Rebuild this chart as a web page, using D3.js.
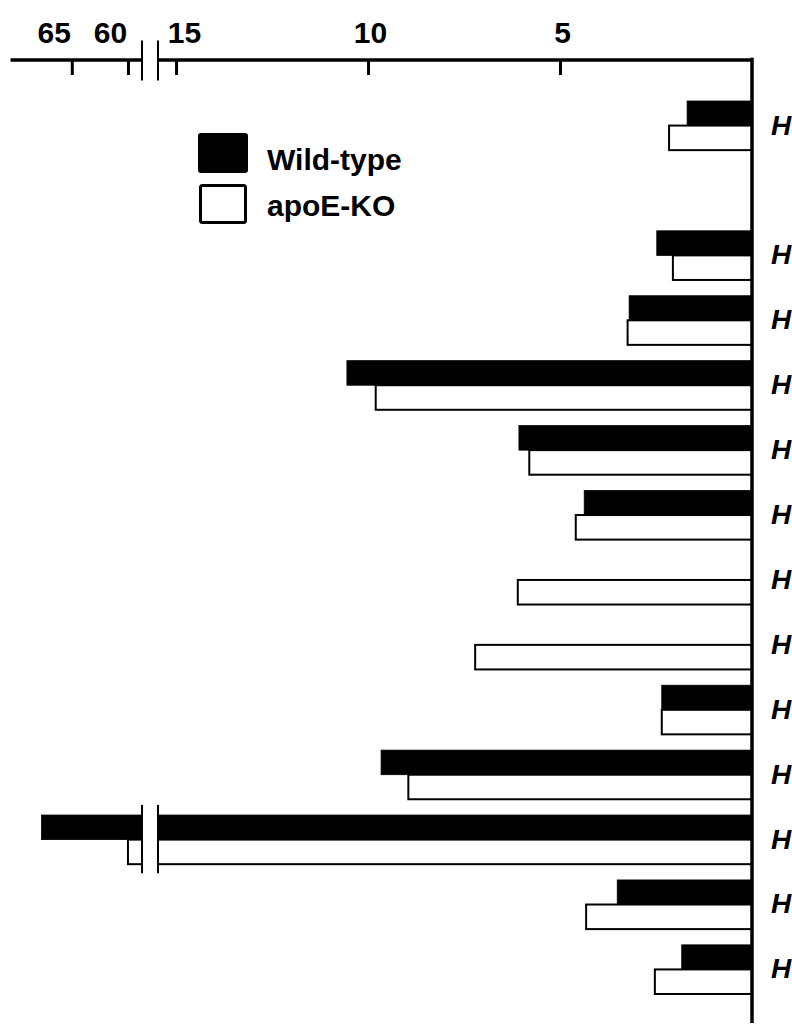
<!DOCTYPE html>
<html>
<head>
<meta charset="utf-8">
<script src="https://cdn.jsdelivr.net/npm/d3@7"></script>
<style>
body { margin: 0; background: #fff; }
text { font-family: "Liberation Sans", Arial, sans-serif; font-weight: bold; }
</style>
</head>
<body>
<div id="chart"></div>
<script>
// row labels (cut off at the right edge in the source figure)
const rowLabels = ["H", "H", "H", "H", "H", "H", "H", "H", "H", "H", "H", "H", "H"];
// fold change, Wild-type vs apoE-KO
const wildType = [1.69, 2.48, 3.20, 10.55, 6.07, 4.37, 0, 0, 2.35, 9.66, 67.7, 3.51, 1.83];
const apoeKO   = [2.16, 2.06, 3.24, 9.80, 5.80, 4.59, 6.10, 7.21, 2.35, 8.95, 60.0, 4.32, 2.53];
const rightTicks = [5, 10, 15];
const leftTicks = [60, 65];
// broken axis: 0..breakLow on the right, breakHigh..leftEnd on the left
const breakLow = 15.47, breakHigh = 58.75, leftEnd = 70.5;
const legendSlot = 1; // empty row where the legend sits

const width = 792, height = 1031;
const axisY = 59.5;

const svg = d3.select("#chart").append("svg")
    .attr("width", width)
    .attr("height", height);

const xR = d3.scaleLinear().domain([0, breakLow]).range([752, 158]);
const xL = d3.scaleLinear().domain([breakHigh, leftEnd]).range([142, 10]);

const slots = rowLabels.map((d, i) => i < legendSlot ? i : i + 1);
const y = d3.scaleBand()
    .domain(d3.range(rowLabels.length + 1))
    .range([101, 994])
    .paddingInner(0.243)
    .paddingOuter(0);
const ySub = d3.scaleBand().domain(["wt", "ko"]).range([0, y.bandwidth()]);

function segs(v) {
    if (v <= breakLow) return [[xR(v), xR(0)]];
    return [[xR(breakLow), xR(0)], [xL(v), xL(breakHigh)]];
}

const bars = [];
rowLabels.forEach((lab, i) => {
    [["ko", apoeKO[i]], ["wt", wildType[i]]].forEach(([key, v]) => {
        if (v > 0) segs(v).forEach(s => bars.push({ row: i, key: key, x0: s[0], x1: s[1] }));
    });
});

// white bars first, black on top
svg.append("g").selectAll("rect")
    .data(bars)
    .enter()
    .append("rect")
    .attr("x", d => d.x0)
    .attr("y", d => y(slots[d.row]) + ySub(d.key))
    .attr("width", d => d.x1 - d.x0)
    .attr("height", ySub.bandwidth())
    .attr("fill", d => d.key === "wt" ? "#000" : "#fff")
    .attr("stroke", "#000")
    .attr("stroke-width", d => d.key === "wt" ? 0.8 : 2);

// break marks on the long bar
const brokenRows = rowLabels.map((d, i) => i).filter(i => Math.max(wildType[i], apoeKO[i]) > breakLow);
brokenRows.forEach(i => {
    [xL(breakHigh), xR(breakLow)].forEach(bx => {
        svg.append("line")
            .attr("x1", bx).attr("x2", bx)
            .attr("y1", y(slots[i]) - 10)
            .attr("y2", y(slots[i]) + y.bandwidth() + 9)
            .attr("stroke", "#000")
            .attr("stroke-width", 2);
    });
});

// top axis in two pieces
function styleAxis(g) {
    g.selectAll(".domain").attr("stroke-width", 3.5);
    g.selectAll(".tick line").attr("stroke-width", 3);
    g.selectAll(".tick text")
        .attr("font-size", 30)
        .attr("font-family", "'Liberation Sans', Arial, sans-serif")
        .attr("font-weight", "bold")
        .attr("fill", "#000");
}
svg.append("g")
    .attr("transform", "translate(0," + axisY + ")")
    .call(d3.axisTop(xR).tickValues(rightTicks).tickSizeInner(-15.5).tickSizeOuter(0).tickPadding(17))
    .call(styleAxis)
    .selectAll(".tick text").attr("dx", d => d === 15 ? 8 : 2);
svg.append("g")
    .attr("transform", "translate(0," + axisY + ")")
    .call(d3.axisTop(xL).tickValues(leftTicks).tickSizeInner(-15.5).tickSizeOuter(0).tickPadding(17))
    .call(styleAxis)
    .selectAll(".tick text").attr("dx", -18);

// break marks on the axis
[xL(breakHigh), xR(breakLow)].forEach(bx => {
    svg.append("line")
        .attr("x1", bx).attr("x2", bx)
        .attr("y1", axisY - 19).attr("y2", axisY + 21)
        .attr("stroke", "#000")
        .attr("stroke-width", 2);
});

// vertical baseline
svg.append("line")
    .attr("x1", xR(0)).attr("x2", xR(0))
    .attr("y1", axisY - 1.75)
    .attr("y2", y.range()[1] + 29)
    .attr("stroke", "#000")
    .attr("stroke-width", 3.5);

// row labels
const yAxis = svg.append("g")
    .attr("transform", "translate(" + xR(0) + ",0)")
    .call(d3.axisRight(y).tickValues(slots).tickSize(0).tickPadding(19)
        .tickFormat(s => rowLabels[slots.indexOf(s)]));
yAxis.select(".domain").remove();
yAxis.selectAll(".tick text")
    .attr("font-size", 28)
    .attr("font-family", "'Liberation Sans', Arial, sans-serif")
    .attr("font-weight", "bold")
    .attr("font-style", "italic")
    .attr("fill", "#000");

// legend
const legend = svg.append("g");
legend.append("rect")
    .attr("x", 198).attr("y", 133).attr("width", 50).attr("height", 40)
    .attr("rx", 3).attr("fill", "#000");
legend.append("rect")
    .attr("x", 200.5).attr("y", 185.5).attr("width", 45).attr("height", 37)
    .attr("rx", 2).attr("fill", "#fff").attr("stroke", "#000").attr("stroke-width", 3);
legend.append("text")
    .attr("x", 267).attr("y", 170)
    .attr("font-size", 30)
    .text("Wild-type");
legend.append("text")
    .attr("x", 267).attr("y", 216)
    .attr("font-size", 30)
    .text("apoE-KO");
</script>
</body>
</html>
